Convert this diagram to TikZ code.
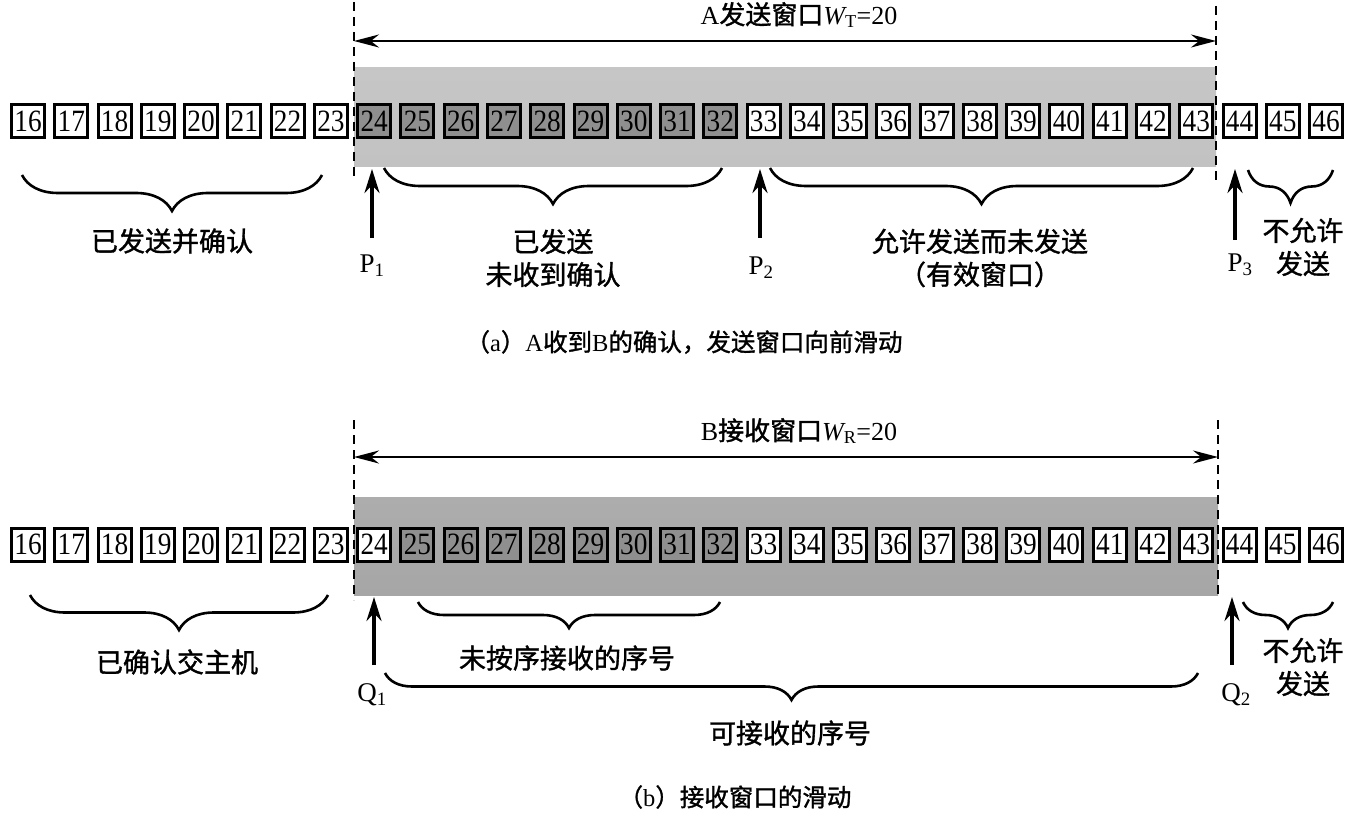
\documentclass[tikz,border=0pt]{standalone}
\usepackage{fontspec}
\setmainfont{Liberation Serif}
\newfontfamily\numfont[FakeStretch=0.88]{Liberation Serif}
\newfontfamily\cjk[FakeBold=1.3]{Noto Sans CJK SC}
\usetikzlibrary{arrows.meta,decorations.pathreplacing,calc}
\definecolor{cellgray}{HTML}{8F8F8F}
\definecolor{bandAtop}{HTML}{C6C6C6}
\definecolor{bandAmid}{HTML}{D0D0D0}
\definecolor{bandAbot}{HTML}{C2C2C2}
\definecolor{bandBtop}{HTML}{ADADAD}
\definecolor{bandBmid}{HTML}{BDBDBD}
\definecolor{bandBbot}{HTML}{A6A6A6}
\begin{document}
\begin{tikzpicture}[x=1pt,y=-1pt,
  cell/.style={draw=black, line width=3pt, minimum width=33pt, minimum height=33pt,
    inner sep=0pt, fill=white, font=\numfont\fontsize{31}{31}\selectfont},
  dcell/.style={cell, fill=cellgray},
  winline/.style={line width=2.3pt, dash pattern=on 9pt off 6pt},
  widtharrow/.style={line width=2.2pt, {Stealth[length=25pt,width=13pt]}-{Stealth[length=25pt,width=13pt]}},
  ptr/.style={line width=3.3pt, -{Stealth[length=24pt,width=15pt]}},
  bracelab/.style={decorate, decoration={brace, amplitude=#1}, line width=2.6pt},
  cjklab/.style={font=\cjk\fontsize{27}{33}\selectfont, inner sep=0pt, align=center},
  ptrlab/.style={font=\fontsize{27}{27}\selectfont, inner sep=0pt},
  title/.style={font=\fontsize{26}{26}\selectfont, inner sep=0pt},
  caption/.style={font=\fontsize{24.5}{24.5}\selectfont, inner sep=0pt}
]
\useasboundingbox (0,0) rectangle (1367,813);

% ---------- (a) ----------
\shade[top color=bandAtop, middle color=bandAmid, bottom color=bandAbot] (354,68) rectangle (1216,167);
\draw[winline] (354,2) -- (354,180);
\draw[winline] (1216,6) -- (1216,180);
\coordinate (aL) at (354,41);
\coordinate (aR) at (1216,41);
\draw[widtharrow] (aL) -- (aR);
\node[title] (ta) at (799,15) {A{\cjk 发送窗口}{\itshape W}\textsubscript{T}=20};

\foreach \i in {16,...,46}{
  \pgfmathsetmacro{\xx}{28+43.27*(\i-16)}
  \ifnum\i>23 \ifnum\i<33
    \node[dcell] (a\i) at (\xx,121) {\i};
  \else
    \node[cell] (a\i) at (\xx,121) {\i};
  \fi\else
    \node[cell] (a\i) at (\xx,121) {\i};
  \fi
}

% pointers
\node[ptrlab] (p1) at (372,266) {P\textsubscript{1}};
\coordinate (p1t) at (372,169);
\coordinate (p1b) at (372,238);
\draw[ptr] (p1b) -- (p1t);
\node[ptrlab] (p2) at (761,268) {P\textsubscript{2}};
\coordinate (p2t) at (760,169);
\coordinate (p2b) at (760,238);
\draw[ptr] (p2b) -- (p2t);
\node[ptrlab] (p3) at (1240,265) {P\textsubscript{3}};
\coordinate (p3t) at (1235,169);
\coordinate (p3b) at (1235,240);
\draw[ptr] (p3b) -- (p3t);

% braces (a)
\draw[bracelab=36pt] (322,175) -- (22,175);
\node[cjklab] (la1) at (172,241) {已发送并确认};
\draw[bracelab=36pt] (722,168) -- (384,168);
\node[cjklab] (la2) at (553,258) {已发送\\未收到确认};
\draw[bracelab=36pt] (1193,168) -- (770,168);
\node[cjklab] (la3) at (980,258) {允许发送而未发送\\（有效窗口）};
\draw[bracelab=33pt] (1333,170) -- (1248,170);
\node[cjklab] (la4) at (1303,247) {不允许\\发送};

\node[caption] (capa) at (684,342) {{\cjk （}a{\cjk ）}A{\cjk 收到}B{\cjk 的确认，发送窗口向前滑动}};

% ---------- (b) ----------
\shade[top color=bandBtop, middle color=bandBmid, bottom color=bandBbot] (354,497) rectangle (1218,595);
\draw[winline] (354,420) -- (354,600);
\draw[winline] (1218,420) -- (1218,598);
\coordinate (bL) at (354,457);
\coordinate (bR) at (1218,457);
\draw[widtharrow] (bL) -- (bR);
\node[title] (tb) at (799,431) {B{\cjk 接收窗口}{\itshape W}\textsubscript{R}=20};

\foreach \i in {16,...,46}{
  \pgfmathsetmacro{\xx}{28+43.27*(\i-16)}
  \ifnum\i>24 \ifnum\i<33
    \node[dcell] (b\i) at (\xx,544.5) {\i};
  \else
    \node[cell] (b\i) at (\xx,544.5) {\i};
  \fi\else
    \node[cell] (b\i) at (\xx,544.5) {\i};
  \fi
}

\node[ptrlab] (q1) at (372,695) {Q\textsubscript{1}};
\coordinate (q1t) at (374,597);
\coordinate (q1b) at (374,665);
\draw[ptr] (q1b) -- (q1t);
\node[ptrlab] (q2) at (1236,695) {Q\textsubscript{2}};
\coordinate (q2t) at (1232,597);
\coordinate (q2b) at (1232,665);
\draw[ptr] (q2b) -- (q2t);

\draw[bracelab=35pt] (328,595) -- (30,595);
\node[cjklab] (lb1) at (177,662) {已确认交主机};
\draw[bracelab=26pt] (720,602) -- (418,602);
\node[cjklab] (lb2) at (567,658) {未按序接收的序号};
\draw[bracelab=27pt] (1198,673) -- (385,673);
\node[cjklab] (lb3) at (790,733) {可接收的序号};
\draw[bracelab=26pt] (1333,602) -- (1243,602);
\node[cjklab] (lb4) at (1303,667) {不允许\\发送};

\node[caption] (capb) at (735,797) {{\cjk （}b{\cjk ）接收窗口的滑动}};
\end{tikzpicture}
\end{document}
